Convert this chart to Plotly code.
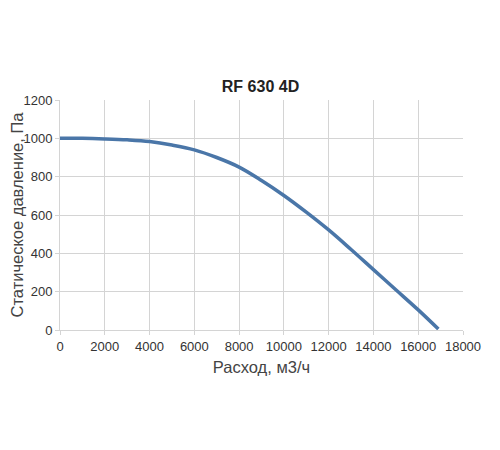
import plotly.graph_objects as go

# fan curve RF 630 4D
flow = [0, 1000, 2000, 3000, 4000, 5000, 6000, 7000, 8000, 9000,
        10000, 11000, 12000, 13000, 14000, 15000, 16000, 16900]
pressure = [1000, 1000, 997, 992, 983, 965, 940, 900, 850, 780,
            702, 615, 522, 420, 315, 210, 105, 5]

x_ticks = list(range(0, 18001, 2000))
y_ticks = list(range(0, 1201, 200))

fig = go.Figure()
fig.add_trace(go.Scatter(x=flow, y=pressure, mode="lines",
                         line=dict(color="#4a76a8", width=3.5, shape="spline"),
                         showlegend=False))

grid = "#d4d4d4"
# the page puts the figure 8px in from the corner, so margins are shifted by that
fig.update_layout(
    width=500, height=450,
    margin=dict(l=52, r=45, t=92, b=128),
    paper_bgcolor="white", plot_bgcolor="white",
    font=dict(family="Liberation Sans, Arial", color="#333333"),
    title=dict(text="<b>RF 630 4D</b>", x=0.505, xanchor="center",
               y=1 - 78 / 450, yanchor="middle",
               font=dict(size=16, color="#222222")),
    xaxis=dict(range=[0, 18000], tickvals=x_ticks, ticktext=[str(v) for v in x_ticks],
               showgrid=True, gridcolor=grid, automargin=False,
               gridwidth=1, showline=True, linecolor=grid, zeroline=False,
               ticks="outside", ticklen=4, tickcolor=grid,
               tickfont=dict(size=13, color="#333333"),
               title=dict(text="Расход, м3/ч", font=dict(size=16.5, color="#444444"),
                          standoff=8)),
    yaxis=dict(range=[0, 1200], tickvals=y_ticks, ticktext=[str(v) for v in y_ticks],
               showgrid=True, gridcolor=grid, automargin=False,
               gridwidth=1, showline=True, linecolor=grid, zeroline=False,
               ticks="outside", ticklen=4, tickcolor=grid,
               tickfont=dict(size=13, color="#333333"),
               title=dict(text="Статическое давление, Па",
                          font=dict(size=16.5, color="#444444"), standoff=2)),
)

fig.write_html("out.html")
